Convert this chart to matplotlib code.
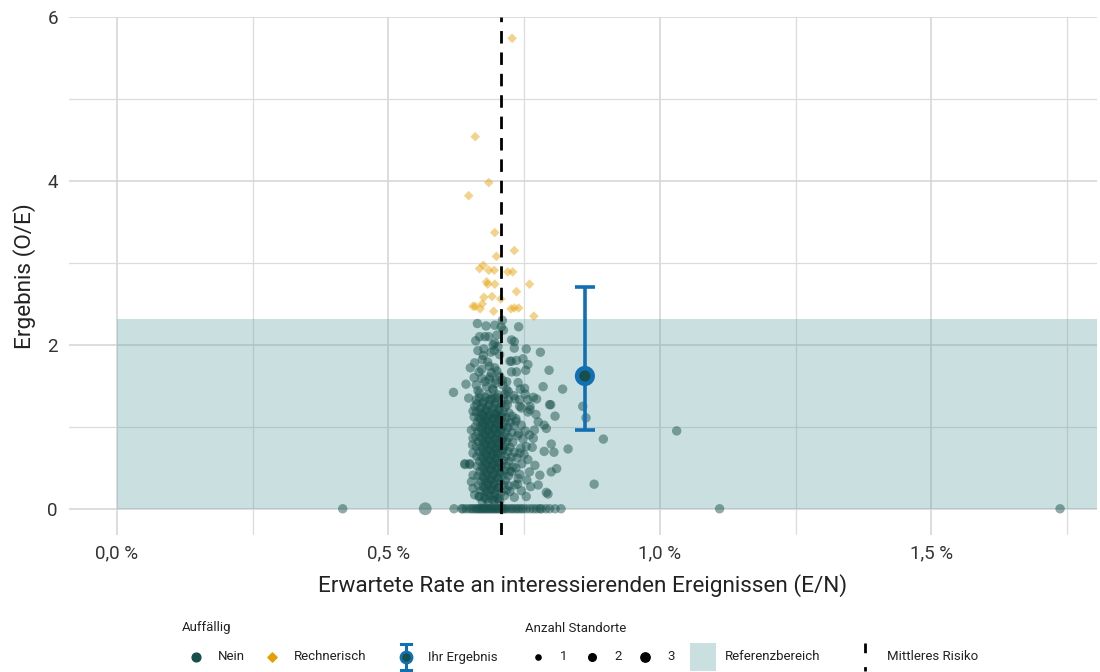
import numpy as np
import matplotlib
matplotlib.use('Agg')
import matplotlib.pyplot as plt
import matplotlib.patches as mpatches

plt.rcParams['font.family'] = ['Roboto', 'DejaVu Sans']

# --- data (rate in %, O/E) ------------------------------------------------
rechnerisch_points = [
    (0.728, 5.74), (0.660, 4.54), (0.685, 3.98), (0.648, 3.82), (0.696, 3.37),
    (0.732, 3.15), (0.699, 3.08), (0.675, 2.97), (0.668, 2.93), (0.685, 2.91),
    (0.695, 2.91), (0.720, 2.89), (0.729, 2.89), (0.681, 2.77), (0.683, 2.74),
    (0.696, 2.74), (0.760, 2.74), (0.736, 2.65), (0.676, 2.58), (0.691, 2.59),
    (0.707, 2.56), (0.660, 2.47), (0.673, 2.50), (0.669, 2.44), (0.694, 2.41),
    (0.726, 2.44), (0.732, 2.45), (0.740, 2.45), (0.768, 2.35), (0.656, 2.47),
]

# upper part of the cluster and outer points
nein_upper = [
    (0.664, 2.26), (0.680, 2.23), (0.696, 2.24), (0.710, 2.30), (0.708, 2.22),
    (0.668, 2.10), (0.678, 2.10), (0.685, 2.10), (0.693, 2.00), (0.696, 2.02),
    (0.702, 1.98), (0.665, 1.93), (0.676, 1.95), (0.689, 1.91), (0.705, 1.88),
    (0.659, 1.78), (0.673, 1.82), (0.683, 1.79), (0.651, 1.72), (0.667, 1.67),
    (0.686, 1.74), (0.696, 1.72), (0.658, 1.60), (0.672, 1.59), (0.687, 1.61),
    (0.699, 1.57), (0.643, 1.52), (0.662, 1.51), (0.681, 1.49), (0.693, 1.45),
    (0.711, 1.51), (0.668, 1.41), (0.684, 1.39), (0.702, 1.39), (0.718, 1.45),
    (0.648, 1.35), (0.662, 1.33), (0.675, 1.31), (0.687, 1.33), (0.696, 1.35),
    (0.721, 1.33), (0.659, 1.25), (0.672, 1.24), (0.684, 1.25), (0.699, 1.26),
    (0.715, 1.24), (0.727, 2.06), (0.727, 1.80), (0.620, 1.42),
    (0.740, 2.22), (0.732, 2.04), (0.732, 1.96), (0.754, 1.95), (0.780, 1.91),
    (0.724, 1.80), (0.736, 1.81), (0.748, 1.83), (0.757, 1.76), (0.727, 1.67),
    (0.736, 1.67), (0.753, 1.69), (0.796, 1.69), (0.718, 1.55), (0.739, 1.54),
    (0.743, 1.46), (0.751, 1.47), (0.785, 1.49), (0.821, 1.46), (0.721, 1.43),
    (0.733, 1.34), (0.757, 1.33), (0.767, 1.36), (0.773, 1.34), (0.799, 1.27),
    (0.742, 1.25), (0.761, 1.25),
    (0.672, 1.70), (0.690, 1.66), (0.705, 1.62), (0.678, 1.55), (0.697, 1.53),
    (0.710, 1.57), (0.665, 1.44), (0.692, 1.47), (0.715, 1.40), (0.686, 1.58),
    (0.700, 1.68), (0.675, 1.87), (0.695, 1.93), (0.661, 2.05), (0.700, 2.12),
    (0.712, 2.18),
]

nein_right = [
    (0.745, 1.23), (0.761, 1.21), (0.797, 1.27), (0.776, 1.06), (0.787, 1.02),
    (0.791, 0.98), (0.807, 1.13), (0.769, 0.96), (0.767, 0.86), (0.800, 0.79),
    (0.787, 0.70), (0.805, 0.69), (0.831, 0.73), (0.754, 0.76), (0.742, 0.68),
    (0.757, 0.60), (0.770, 0.53), (0.800, 0.45), (0.810, 0.49), (0.779, 0.41),
    (0.739, 0.37), (0.762, 0.27), (0.776, 0.29), (0.791, 0.20), (0.794, 0.18),
    (0.754, 0.15), (0.727, 0.45), (0.733, 0.29), (0.724, 0.21),
    (0.735, 1.10), (0.745, 1.02), (0.740, 0.92), (0.752, 0.95), (0.748, 0.85),
    (0.760, 0.90), (0.744, 0.74), (0.737, 0.62), (0.750, 0.66), (0.735, 0.50),
    (0.746, 0.55), (0.742, 0.42), (0.755, 0.35), (0.738, 0.30), (0.745, 0.22),
    (0.732, 0.14), (0.760, 0.45), (0.765, 0.75), (0.772, 1.15), (0.757, 1.18),
    (0.742, 1.33), (0.752, 1.40), (0.731, 1.38),
    (0.858, 1.25), (0.864, 1.11), (0.896, 0.85), (0.879, 0.30), (1.031, 0.95),
]

nein_left = [
    (0.656, 1.19), (0.653, 0.96), (0.656, 0.86), (0.655, 0.78), (0.656, 0.68),
    (0.641, 0.54), (0.650, 0.54), (0.656, 0.41), (0.653, 0.33), (0.656, 0.25),
    (0.659, 0.17), (0.668, 0.15), (0.641, 0.55), (0.650, 0.55),
]

nein_core = [
    (0.662, 1.18), (0.671, 1.17), (0.679, 1.19), (0.688, 1.18), (0.695, 1.16), (0.703, 1.19), (0.712, 1.18), (0.722, 1.17),
    (0.658, 1.12), (0.667, 1.11), (0.676, 1.13), (0.684, 1.12), (0.692, 1.10), (0.700, 1.13), (0.709, 1.12), (0.718, 1.11), (0.728, 1.13),
    (0.664, 1.06), (0.673, 1.05), (0.681, 1.07), (0.690, 1.06), (0.698, 1.04), (0.706, 1.07), (0.715, 1.06), (0.724, 1.05), (0.735, 1.07),
    (0.660, 1.00), (0.669, 0.99), (0.678, 1.01), (0.686, 1.00), (0.694, 0.98), (0.703, 1.01), (0.711, 1.00), (0.720, 0.99), (0.731, 1.01),
    (0.665, 0.94), (0.674, 0.93), (0.683, 0.95), (0.691, 0.94), (0.699, 0.92), (0.708, 0.95), (0.717, 0.94), (0.727, 0.93),
    (0.661, 0.88), (0.670, 0.87), (0.679, 0.89), (0.687, 0.88), (0.696, 0.86), (0.704, 0.89), (0.713, 0.88), (0.722, 0.87), (0.738, 0.89),
    (0.666, 0.82), (0.675, 0.81), (0.684, 0.83), (0.692, 0.82), (0.700, 0.80), (0.709, 0.83), (0.718, 0.82), (0.729, 0.81),
    (0.662, 0.76), (0.671, 0.75), (0.680, 0.77), (0.688, 0.76), (0.697, 0.74), (0.705, 0.77), (0.714, 0.76), (0.724, 0.75),
    (0.667, 0.70), (0.676, 0.69), (0.685, 0.71), (0.693, 0.70), (0.701, 0.68), (0.710, 0.71), (0.720, 0.70), (0.732, 0.69),
    (0.663, 0.64), (0.672, 0.63), (0.681, 0.65), (0.690, 0.64), (0.698, 0.62), (0.707, 0.65), (0.716, 0.64), (0.727, 0.63),
    (0.668, 0.58), (0.677, 0.57), (0.686, 0.59), (0.694, 0.58), (0.703, 0.56), (0.712, 0.59), (0.722, 0.58),
    (0.664, 0.52), (0.673, 0.51), (0.682, 0.53), (0.691, 0.52), (0.699, 0.50), (0.708, 0.53), (0.718, 0.52), (0.730, 0.51),
    (0.669, 0.46), (0.678, 0.45), (0.687, 0.47), (0.696, 0.46), (0.705, 0.44), (0.714, 0.47), (0.724, 0.46),
    (0.665, 0.40), (0.674, 0.39), (0.683, 0.41), (0.692, 0.40), (0.701, 0.38), (0.711, 0.41), (0.721, 0.40),
    (0.670, 0.34), (0.679, 0.33), (0.688, 0.35), (0.697, 0.34), (0.706, 0.32), (0.716, 0.35),
    (0.666, 0.28), (0.675, 0.27), (0.684, 0.29), (0.693, 0.28), (0.702, 0.26), (0.712, 0.29), (0.722, 0.28),
    (0.671, 0.22), (0.680, 0.21), (0.689, 0.23), (0.698, 0.22), (0.708, 0.20), (0.718, 0.23),
    (0.667, 0.15), (0.677, 0.14), (0.686, 0.16), (0.695, 0.15), (0.704, 0.13), (0.714, 0.16),
    (0.673, 0.09), (0.684, 0.08), (0.695, 0.10), (0.705, 0.09),
    (0.668, 1.35), (0.679, 1.36), (0.690, 1.34), (0.700, 1.36), (0.712, 1.35),
    (0.663, 1.28), (0.674, 1.29), (0.686, 1.27), (0.697, 1.29), (0.708, 1.28), (0.719, 1.27),
    (0.669, 1.22), (0.681, 1.21), (0.693, 1.23), (0.704, 1.22),
    (0.673, 1.15), (0.685, 1.14), (0.697, 1.16), (0.706, 1.15),
    (0.670, 1.09), (0.682, 1.08), (0.694, 1.10), (0.703, 1.09),
    (0.675, 1.03), (0.687, 1.02), (0.699, 1.04),
    (0.672, 0.97), (0.684, 0.96), (0.696, 0.98), (0.707, 0.97),
    (0.677, 0.91), (0.689, 0.90), (0.701, 0.92),
    (0.673, 0.85), (0.686, 0.84), (0.698, 0.86), (0.710, 0.85),
    (0.678, 0.79), (0.690, 0.78), (0.702, 0.80),
    (0.674, 0.73), (0.687, 0.72), (0.699, 0.74), (0.711, 0.73),
    (0.679, 0.67), (0.691, 0.66), (0.703, 0.68),
    (0.675, 0.61), (0.688, 0.60), (0.700, 0.62),
    (0.680, 0.55), (0.692, 0.54), (0.704, 0.56),
    (0.676, 0.49), (0.689, 0.48), (0.701, 0.50),
    (0.681, 0.43), (0.693, 0.42), (0.706, 0.44),
    (0.677, 0.37), (0.690, 0.36), (0.702, 0.38),
    (0.682, 0.31), (0.694, 0.30),
    (0.678, 0.25), (0.691, 0.24), (0.703, 0.26),
    (0.683, 0.19), (0.696, 0.18),
    (0.680, 0.12), (0.692, 0.11), (0.701, 0.12),
]

nein_zero_rate = [
    0.416, 0.621, 0.635, 0.638, 0.644, 0.650, 0.654, 0.658, 0.662, 0.665,
    0.668, 0.671, 0.674, 0.677, 0.680, 0.683, 0.686, 0.689, 0.692, 0.695,
    0.698, 0.701, 0.704, 0.707, 0.710, 0.713, 0.716, 0.721, 0.726, 0.730,
    0.735, 0.739, 0.744, 0.748, 0.754, 0.761, 0.767, 0.773, 0.779, 0.782,
    0.790, 0.797, 0.807, 0.818, 1.110, 1.737,
]

# locations counted twice (Anzahl Standorte = 2)
multi_rate = [0.568]
multi_oe = [0.0]

# your own result with confidence interval
ihr_rate = 0.862
ihr_oe = 1.62
ihr_ci = (0.96, 2.71)

mean_risk = 0.707      # Mittleres Risiko, in %
ref_upper = 2.32       # Referenzbereich 0 .. 2.32

x_ticks = [0.0, 0.5, 1.0, 1.5]
x_ticklabels = ['0,0 %', '0,5 %', '1,0 %', '1,5 %']
y_ticks = [0, 2, 4, 6]

# --- styles --------------------------------------------------------------
c_nein = '#174f4b'
c_rech = '#e69f00'
c_blue = '#1170b4'
c_band = '#609fa2'
c_grid = '#d3d3d3'
c_text = '#222222'

fig = plt.figure(figsize=(11, 6.72), dpi=100)
fig.patch.set_facecolor('white')

ax = fig.add_axes([69 / 1100, 1 - 535 / 672, 1028 / 1100, 518 / 672])
ax.set_xlim(-0.088, 1.805)
ax.set_ylim(-0.32, 6.0)

ax.set_xticks(x_ticks)
ax.set_xticklabels(x_ticklabels)
ax.set_xticks([0.25, 0.75, 1.25, 1.75], minor=True)
ax.set_yticks(y_ticks)
ax.set_yticks([1, 3, 5], minor=True)
ax.grid(True, which='major', color=c_grid, lw=1.1)
ax.grid(True, which='minor', color='#dcdcdc', lw=0.9)
ax.set_axisbelow(True)
for sp in ax.spines.values():
    sp.set_visible(False)
ax.tick_params(which='both', length=0, labelsize=13.5, colors='#333333')
ax.tick_params(axis='y', pad=8)
ax.tick_params(axis='x', pad=7)

ax.set_xlabel('Erwartete Rate an interessierenden Ereignissen (E/N)',
              fontsize=16.2, color=c_text, labelpad=8)
ax.set_ylabel('Ergebnis (O/E)', fontsize=16.2, color=c_text, labelpad=8)

# reference band
ax.add_patch(mpatches.Rectangle((0, 0), 2.0, ref_upper, facecolor=c_band,
                                alpha=0.33, edgecolor='none', zorder=1.5))

# scatter
pts = np.array(nein_upper + nein_right + nein_left + nein_core)
ax.scatter(pts[:, 0], pts[:, 1], s=46, color=c_nein, alpha=0.48,
           edgecolors='none', zorder=3)
ax.scatter(nein_zero_rate, np.zeros(len(nein_zero_rate)), s=46, color=c_nein,
           alpha=0.48, edgecolors='none', zorder=3)
ax.scatter(multi_rate, multi_oe, s=85, color=c_nein, alpha=0.48,
           edgecolors='none', zorder=3)
rp = np.array(rechnerisch_points)
ax.scatter(rp[:, 0], rp[:, 1], s=24, marker='D', color=c_rech, alpha=0.45,
           edgecolors='none', zorder=3)

# mean risk
ax.axvline(mean_risk, color='black', lw=2, dashes=(4.5, 3.2), zorder=4)

# own result
ax.errorbar([ihr_rate], [ihr_oe],
            yerr=[[ihr_oe - ihr_ci[0]], [ihr_ci[1] - ihr_oe]],
            fmt='none', ecolor=c_blue, elinewidth=2.6, capsize=7.5,
            capthick=2.6, zorder=5)
ax.scatter([ihr_rate], [ihr_oe], s=210, color=c_blue, zorder=6,
           edgecolors='none')
ax.scatter([ihr_rate], [ihr_oe], s=65, color=c_nein, zorder=7,
           edgecolors='none')

# --- legend (drawn in pixel coordinates) ----------------------------------
lg = fig.add_axes([0, 0, 1, 1], zorder=10)
lg.set_xlim(0, 1100)
lg.set_ylim(672, 0)
lg.axis('off')
lg.patch.set_alpha(0)

fs = 9.5
row = 657
lg.text(182, 628, 'Auffällig', fontsize=fs, va='center', color=c_text)
lg.text(525, 628, 'Anzahl Standorte', fontsize=fs, va='center', color=c_text)

lg.scatter([196], [row], s=40, color=c_nein)
lg.text(218, row, 'Nein', fontsize=fs, va='center', color=c_text)
lg.scatter([272], [row], s=22, marker='D', color=c_rech)
lg.text(294, row, 'Rechnerisch', fontsize=fs, va='center', color=c_text)

lg.plot([406, 406], [644, 670], color=c_blue, lw=2.2)
lg.plot([401, 411], [644, 644], color=c_blue, lw=2.2)
lg.plot([401, 411], [670, 670], color=c_blue, lw=2.2)
lg.scatter([406], [row], s=80, color=c_blue, zorder=3)
lg.scatter([406], [row], s=25, color=c_nein, zorder=4)
lg.text(428, row, 'Ihr Ergebnis', fontsize=fs, va='center', color=c_text)

for xs, ss, lab in [(538, 14, '1'), (592, 30, '2'), (645, 45, '3')]:
    lg.scatter([xs], [row], s=ss, color='black')
    lg.text(xs + 22, row, lab, fontsize=fs, va='center', color=c_text)

lg.add_patch(mpatches.Rectangle((690, 643), 26, 28, facecolor=c_band,
                                alpha=0.33, edgecolor='none'))
lg.text(725, row, 'Referenzbereich', fontsize=fs, va='center', color=c_text)

lg.plot([865, 865], [643, 671], color='black', lw=2, dashes=(3.5, 5))
lg.text(887, row, 'Mittleres Risiko', fontsize=fs, va='center', color=c_text)

fig.savefig('out.png', dpi=100, facecolor='white')
